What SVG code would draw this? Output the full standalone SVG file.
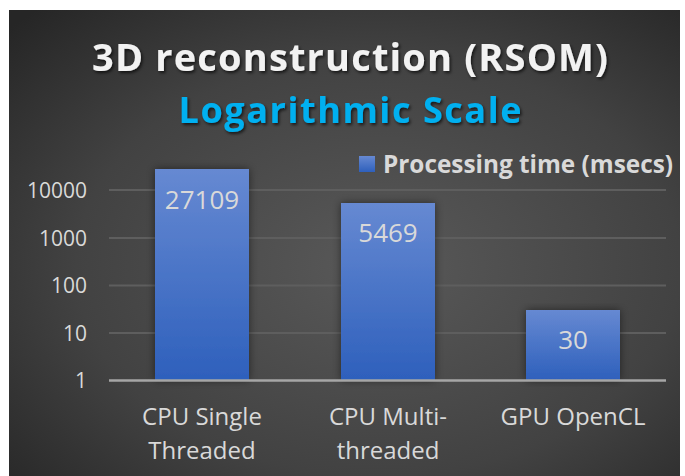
<svg xmlns="http://www.w3.org/2000/svg" width="685" height="476" viewBox="0 0 685 476">
<defs>
<radialGradient id="bg" cx="0.55" cy="0.55" r="0.75">
<stop offset="0" stop-color="#595959"/>
<stop offset="0.6" stop-color="#424242"/>
<stop offset="1" stop-color="#262626"/>
</radialGradient>
<linearGradient id="bar" x1="0" y1="0" x2="0" y2="1">
<stop offset="0" stop-color="#6689D2"/>
<stop offset="1" stop-color="#2E60BC"/>
</linearGradient>
<filter id="ts" x="-10%" y="-30%" width="120%" height="160%">
<feDropShadow dx="1.5" dy="2" stdDeviation="1.5" flood-color="#000" flood-opacity="0.65"/>
</filter>
<filter id="bs" x="-20%" y="-10%" width="140%" height="120%">
<feDropShadow dx="0" dy="0" stdDeviation="4" flood-color="#000" flood-opacity="0.5"/>
</filter>
</defs>
<style>
.t{font-family:"Open Sans","Noto Sans","Liberation Sans",sans-serif}
.ax{font-size:21px;fill:#D9D9D9;text-anchor:end}
.dl{font-size:26px;fill:#D9D9D9;text-anchor:middle}
.cat{font-size:24px;fill:#D9D9D9;text-anchor:middle}
.grid{stroke:#5E5E5E;stroke-width:2}
</style>
<rect x="9" y="10" width="671" height="466" fill="url(#bg)"/>
<g id="title">
<text class="t" x="350" y="71" font-size="38" font-weight="bold" fill="#F2F2F2" text-anchor="middle" textLength="516" lengthAdjust="spacing" filter="url(#ts)">3D reconstruction (RSOM)</text>
<text class="t" x="350" y="123" font-size="36" font-weight="bold" fill="#00B0F0" text-anchor="middle" textLength="343" lengthAdjust="spacing" filter="url(#ts)">Logarithmic Scale</text>
</g>
<g id="legend">
<rect x="359" y="156" width="16" height="16" fill="url(#bar)"/>
<text class="t" x="383" y="173" font-size="25" font-weight="bold" fill="#D9D9D9" textLength="290" lengthAdjust="spacingAndGlyphs">Processing time (msecs)</text>
</g>
<g id="gridlines">
<line class="grid" x1="109" y1="190" x2="666" y2="190"/>
<line class="grid" x1="109" y1="238" x2="666" y2="238"/>
<line class="grid" x1="109" y1="285.5" x2="666" y2="285.5"/>
<line class="grid" x1="109" y1="333" x2="666" y2="333"/>
</g>
<g id="y-axis">
<text class="t ax" x="87" y="198">10000</text>
<text class="t ax" x="87" y="246">1000</text>
<text class="t ax" x="87" y="293">100</text>
<text class="t ax" x="87" y="341">10</text>
<text class="t ax" x="87" y="388">1</text>
</g>
<g id="bar-cpu-single">
<rect x="155" y="169" width="94" height="211" fill="url(#bar)" filter="url(#bs)"/>
<text class="t dl" x="202" y="209">27109</text>
</g>
<g id="bar-cpu-multi">
<rect x="341" y="203" width="94" height="177" fill="url(#bar)" filter="url(#bs)"/>
<text class="t dl" x="388" y="242">5469</text>
</g>
<g id="bar-gpu">
<rect x="526" y="310" width="94" height="70" fill="url(#bar)" filter="url(#bs)"/>
<text class="t dl" x="573" y="349">30</text>
</g>
<line x1="109" y1="380.5" x2="666" y2="380.5" stroke="#A6A6A6" stroke-width="2.5"/>
<g id="categories">
<text class="t cat" x="202" y="425">CPU Single</text>
<text class="t cat" x="202" y="459">Threaded</text>
<text class="t cat" x="388" y="425">CPU Multi-</text>
<text class="t cat" x="388" y="459">threaded</text>
<text class="t cat" x="573" y="425">GPU OpenCL</text>
</g>
</svg>
